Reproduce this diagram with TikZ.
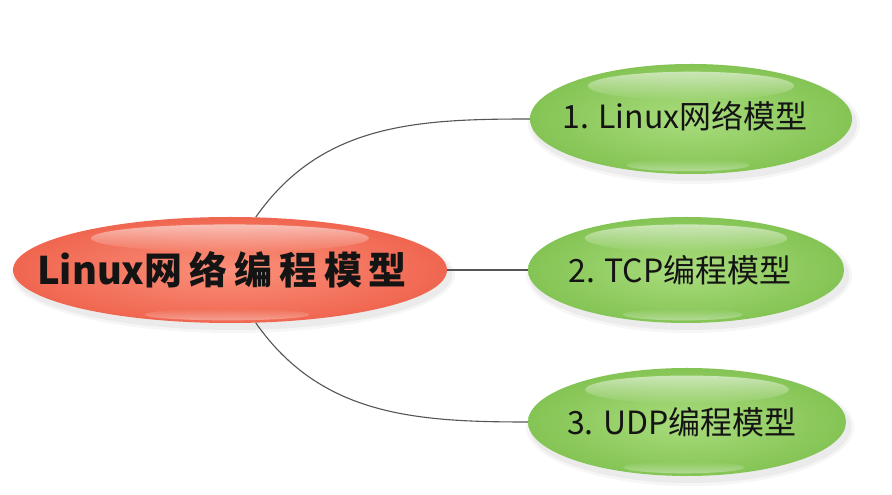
\documentclass[tikz,border=0pt]{standalone}
\usepackage{fontspec}
\newfontfamily\cjk{Noto Sans CJK SC}
\newfontfamily\cjksp[LetterSpace=18]{Noto Sans CJK SC}
\usetikzlibrary{shapes.geometric,fadings,calc}
\tikzfading[name=hltop, top color=transparent!5, bottom color=transparent!100]
\tikzfading[name=hlbot, top color=transparent!100, bottom color=transparent!15]
\definecolor{redin}{HTML}{FA907A}
\definecolor{redout}{HTML}{F06650}
\definecolor{grnin}{HTML}{A9DC7D}
\definecolor{grnout}{HTML}{84C454}
\definecolor{conncol}{HTML}{555555}
\definecolor{txtcol}{HTML}{141414}
\tikzset{
  conn/.style={draw=conncol, line width=1.1pt},
  rtext/.style={text=txtcol, inner sep=0pt, font=\cjk\bfseries\fontsize{38}{44}\selectfont},
  gtext/.style={text=txtcol, inner sep=0pt, font=\cjk\fontsize{32}{38}\selectfont},
}
\newcommand\bubble[7]{%
  \fill[black,opacity=0.035] (#2+3,#3-5) ellipse ({#4/2+5} and {#5/2+5});
  \fill[black,opacity=0.045] (#2+3,#3-5) ellipse ({#4/2+2} and {#5/2+2});
  \node[ellipse, minimum width=#4pt, minimum height=#5pt, inner sep=0pt,
        inner color=#6, outer color=#7] (#1) at (#2,#3) {};
  \fill[white, path fading=hltop, fill opacity=0.6] (#2,#3+0.30*#5) ellipse ({0.32*#4} and {0.13*#5});
  \fill[white, path fading=hlbot, fill opacity=0.45] (#2-3,#3-0.42*#5) ellipse ({0.19*#4} and {0.055*#5});
}
\begin{document}
\begin{tikzpicture}[x=1pt,y=1pt]
\fill[white] (0,0) rectangle (892,495);
\useasboundingbox (0,0) rectangle (892,495);
\bubble{root}{230}{225}{434}{106}{redin}{redout}
\bubble{g1}{691}{376}{322}{110}{grnin}{grnout}
\bubble{g2}{686}{225}{316}{106}{grnin}{grnout}
\bubble{g3}{687}{73}{318}{108}{grnin}{grnout}
\draw[conn] (root.64) to[out=55,in=180] (g1.west);
\draw[conn] (root.east) -- (g2.west);
\draw[conn] (root.-64) to[out=-55,in=180] (g3.west);
\node[rtext] (rt) at ($(root.center)+(-8,0)$) {Linux{\cjksp\bfseries 网络编程模型}};
\node[gtext] (t1) at ($(g1.center)+(-6,3)$) {1. Linux网络模型};
\node[gtext] (t2) at ($(g2.center)+(-6,0)$) {2. TCP编程模型};
\node[gtext] (t3) at ($(g3.center)+(-5,0)$) {3. UDP编程模型};
\end{tikzpicture}
\end{document}
